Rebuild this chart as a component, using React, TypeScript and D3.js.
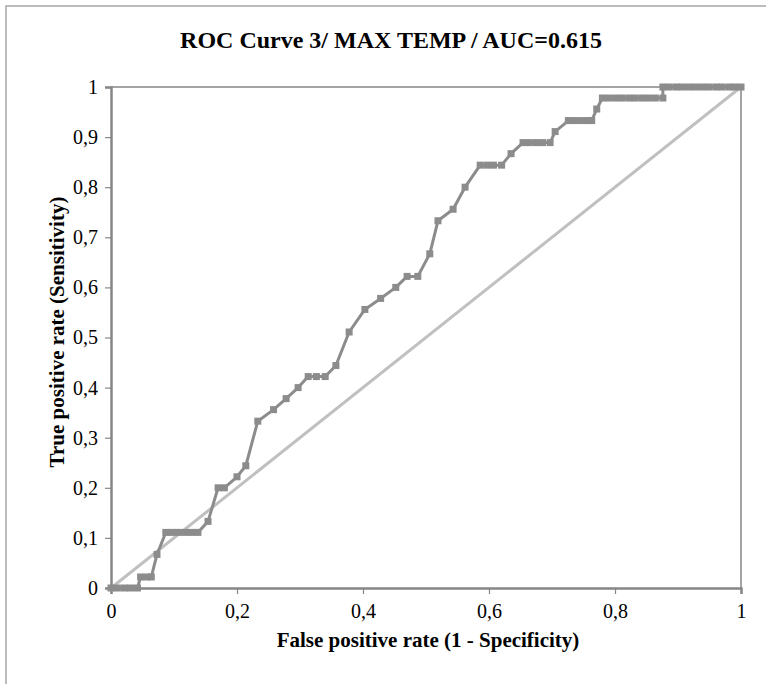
import React, { useEffect, useRef } from 'react';
import * as d3 from 'd3';

// ROC points (false positive rate, true positive rate)
const fpr = [
  0, 0.01, 0.021, 0.031, 0.042,
  0.047, 0.057, 0.064,
  0.073,
  0.087, 0.097, 0.107, 0.118, 0.128, 0.138,
  0.154,
  0.17, 0.18,
  0.2,
  0.214,
  0.233,
  0.258,
  0.278,
  0.297,
  0.313, 0.326, 0.34,
  0.357,
  0.378,
  0.403,
  0.428,
  0.452,
  0.47, 0.487,
  0.506,
  0.519,
  0.543,
  0.562,
  0.586, 0.597, 0.607, 0.62,
  0.635,
  0.654, 0.664, 0.675, 0.685, 0.697,
  0.705,
  0.726, 0.736, 0.747, 0.757, 0.763,
  0.771,
  0.78, 0.79, 0.801, 0.811, 0.822, 0.832, 0.843, 0.853, 0.864, 0.876,
  0.876, 0.886, 0.897, 0.907, 0.918, 0.928, 0.939, 0.949, 0.96, 0.97, 0.981, 0.99, 1,
];
const tpr = [
  0, 0, 0, 0, 0,
  0.022, 0.022, 0.022,
  0.067,
  0.111, 0.111, 0.111, 0.111, 0.111, 0.111,
  0.133,
  0.2, 0.2,
  0.222,
  0.244,
  0.333,
  0.356,
  0.378,
  0.4,
  0.422, 0.422, 0.422,
  0.444,
  0.511,
  0.556,
  0.578,
  0.6,
  0.622, 0.622,
  0.667,
  0.733,
  0.756,
  0.8,
  0.844, 0.844, 0.844, 0.844,
  0.867,
  0.889, 0.889, 0.889, 0.889, 0.889,
  0.911,
  0.933, 0.933, 0.933, 0.933, 0.933,
  0.956,
  0.978, 0.978, 0.978, 0.978, 0.978, 0.978, 0.978, 0.978, 0.978, 0.978,
  1, 1, 1, 1, 1, 1, 1, 1, 1, 1, 1, 1, 1, 1,
];
const refLine = [0, 1];
const yTicks = [0, 0.1, 0.2, 0.3, 0.4, 0.5, 0.6, 0.7, 0.8, 0.9, 1];
const xTicks = [0, 0.2, 0.4, 0.6, 0.8, 1];

const title = 'ROC Curve 3/ MAX TEMP / AUC=0.615';
const xTitle = 'False positive rate (1 - Specificity)';
const yTitle = 'True positive rate (Sensitivity)';

export default function App() {
  const svgRef = useRef<SVGSVGElement>(null);

  useEffect(() => {
    const svg = d3.select(svgRef.current);
    svg.selectAll('*').remove();
    const width = 766;
    const height = 684;
    const margin = { top: 87, right: 25, bottom: 96, left: 111 };
    const w = width - margin.left - margin.right;
    const h = height - margin.top - margin.bottom;
    const axisColor = '#868686';
    const font = '"Liberation Serif", "Times New Roman", serif';

    const fmt = (d: number) => (d === 0 || d === 1 ? String(d) : d.toFixed(1).replace('.', ','));

    const x = d3.scaleLinear().domain([0, 1]).range([0, w]);
    const y = d3.scaleLinear().domain([0, 1]).range([h, 0]);

    // outer chart frame, runs off the right and bottom edges
    svg.append('rect')
      .attr('x', 6).attr('y', 6)
      .attr('width', 800).attr('height', 800)
      .attr('fill', 'none').attr('stroke', '#a6a6a6').attr('stroke-width', 1.5);

    svg.append('text')
      .attr('x', 391).attr('y', 48)
      .attr('text-anchor', 'middle')
      .attr('font-family', font).attr('font-weight', 'bold').attr('font-size', 24)
      .text(title);

    const g = svg.append('g').attr('transform', `translate(${margin.left},${margin.top})`);

    // plot area border (top and right)
    g.append('path')
      .attr('d', `M0,0H${w}V${h}`)
      .attr('fill', 'none').attr('stroke', axisColor).attr('stroke-width', 1.5);

    const yAxis = g.append('g')
      .call(d3.axisLeft(y).tickValues(yTicks).tickFormat(fmt as any).tickSize(6).tickPadding(7));
    const xAxis = g.append('g')
      .attr('transform', `translate(0,${h})`)
      .call(d3.axisBottom(x).tickValues(xTicks).tickFormat(fmt as any).tickSize(6).tickPadding(10));
    [xAxis, yAxis].forEach((a) => {
      a.select('.domain').attr('stroke', axisColor).attr('stroke-width', 2.5);
      a.selectAll('.tick line').attr('stroke', axisColor).attr('stroke-width', 1.2);
      a.selectAll('.tick text')
        .attr('font-family', font).attr('font-size', 20).attr('fill', '#000');
    });

    // reference diagonal
    g.append('line')
      .attr('x1', x(refLine[0])).attr('y1', y(refLine[0]))
      .attr('x2', x(refLine[1])).attr('y2', y(refLine[1]))
      .attr('stroke', '#c0c0c0').attr('stroke-width', 3);

    const pts = fpr.map((f, i) => [f, tpr[i]] as [number, number]);
    const line = d3.line<[number, number]>().x((d) => x(d[0])).y((d) => y(d[1]));
    g.append('path')
      .attr('d', line(pts))
      .attr('fill', 'none').attr('stroke', '#8c8c8c').attr('stroke-width', 3)
      .attr('stroke-linejoin', 'round');

    const ms = 7;
    g.selectAll('.mk').data(pts).enter().append('rect')
      .attr('class', 'mk')
      .attr('x', (d) => x(d[0]) - ms / 2).attr('y', (d) => y(d[1]) - ms / 2)
      .attr('width', ms).attr('height', ms)
      .attr('fill', '#8c8c8c');

    svg.append('text')
      .attr('x', 428).attr('y', 647)
      .attr('text-anchor', 'middle')
      .attr('font-family', font).attr('font-weight', 'bold').attr('font-size', 21)
      .text(xTitle);

    svg.append('text')
      .attr('transform', `translate(64,332) rotate(-90)`)
      .attr('text-anchor', 'middle')
      .attr('font-family', font).attr('font-weight', 'bold').attr('font-size', 21)
      .text(yTitle);
  }, []);

  return (
    <svg
      ref={svgRef}
      width={766}
      height={684}
      style={{ position: 'absolute', left: 0, top: 0, background: '#fff' }}
    />
  );
}
